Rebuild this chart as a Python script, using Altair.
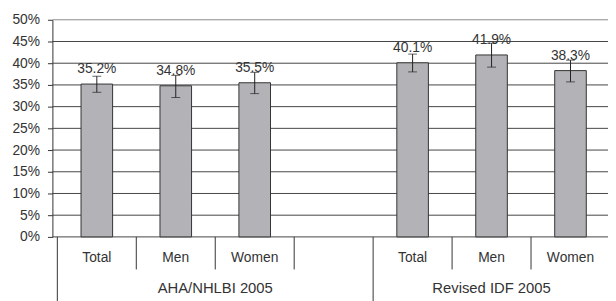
import altair as alt
import pandas as pd

# ---- data ----
groups = ["AHA/NHLBI 2005"] * 3 + ["Revised IDF 2005"] * 3
categories = ["Total", "Men", "Women", "Total", "Men", "Women"]
slots = [0, 1, 2, 4, 5, 6]
values = [35.2, 34.8, 35.5, 40.1, 41.9, 38.3]
err_low = [33.3, 32.1, 33.0, 38.0, 39.1, 35.7]
err_high = [37.0, 37.2, 37.9, 42.1, 44.6, 40.7]
y_ticks = [0, 5, 10, 15, 20, 25, 30, 35, 40, 45, 50]

group_names = ["AHA/NHLBI 2005", "Revised IDF 2005"]
group_centers = [1.5, 5.0]
separators = [-0.5, 0.5, 1.5, 2.5, 3.5, 4.5, 5.5, 6.5]
separator_long = [True, False, False, False, True, False, False, True]

df = pd.DataFrame({
    "group": groups, "cat": categories, "slot": slots,
    "value": values, "lo": err_low, "hi": err_high,
    "label": [f"{v:.1f}%" for v in values],
})
df_groups = pd.DataFrame({"name": group_names, "slot": group_centers})
df_sep = pd.DataFrame({"slot": separators, "long": separator_long})
df_grid = pd.DataFrame({"tick": y_ticks})

FONT = "Liberation Sans"
DARK = "#333333"
GRID = "#444444"
H = 220
W = 563

xs = alt.Scale(domain=[-0.5, 6.5], range=[0, 570])
ys = alt.Scale(domain=[0, 50], nice=False)

y_axis = alt.Axis(
    values=y_ticks, labelExpr="datum.value + '%'", title=None,
    labelOverlap=False, grid=False,
    tickSize=5, tickColor=DARK, domainColor=DARK,
    labelFont=FONT, labelFontSize=14, labelColor=DARK, labelPadding=8,
)

x = alt.X("slot:Q", scale=xs, axis=None)

grid = alt.Chart(df_grid).mark_rule(strokeWidth=1).encode(
    y=alt.Y("tick:Q", scale=ys, axis=y_axis),
    x=alt.value(0), x2=alt.value(W),
    color=alt.condition("datum.tick >= 50", alt.value("#8a8a8a"), alt.value(GRID)),
)

bars = alt.Chart(df).mark_bar(
    size=32, fill="#b3b3b7", stroke=DARK, strokeWidth=1
).encode(x=x, y=alt.Y("value:Q", scale=ys, axis=y_axis))

err = alt.Chart(df).mark_rule(color="#222222", strokeWidth=1).encode(
    x=x, y=alt.Y("lo:Q", scale=ys, axis=y_axis), y2="hi:Q"
)
cap_lo = alt.Chart(df).mark_tick(color="#222222", thickness=1, size=9, orient="horizontal").encode(
    x=x, y=alt.Y("lo:Q", scale=ys, axis=y_axis)
)
cap_hi = alt.Chart(df).mark_tick(color="#222222", thickness=1, size=9, orient="horizontal").encode(
    x=x, y=alt.Y("hi:Q", scale=ys, axis=y_axis)
)

labels = alt.Chart(df).mark_text(
    font=FONT, fontSize=14, color=DARK, baseline="alphabetic", dy=-11
).encode(x=x, y=alt.Y("value:Q", scale=ys, axis=y_axis), text="label:N")

cat_text = alt.Chart(df).mark_text(
    font=FONT, fontSize=14, color=DARK, baseline="middle"
).encode(x=x, y=alt.value(H + 21), text="cat:N")

grp_text = alt.Chart(df_groups).mark_text(
    font=FONT, fontSize=15, color=DARK, baseline="middle"
).encode(x=x, y=alt.value(H + 52), text="name:N")

sep_short = alt.Chart(df_sep).transform_filter("!datum.long").mark_rule(
    color=DARK, strokeWidth=1
).encode(x=x, y=alt.value(H), y2=alt.value(H + 33))
sep_long = alt.Chart(df_sep).transform_filter("datum.long").mark_rule(
    color=DARK, strokeWidth=1
).encode(x=x, y=alt.value(H), y2=alt.value(H + 70))

chart = alt.layer(
    grid, bars, err, cap_lo, cap_hi, labels, cat_text, grp_text, sep_short, sep_long
).properties(
    width=W, height=H,
    autosize=alt.AutoSizeParams(type="none"),
    padding={"left": 45, "top": 10, "right": 0, "bottom": 63},
    background="white",
).configure_view(stroke=None)

chart.save("out.html", embed_options={"renderer": "svg", "actions": False})
